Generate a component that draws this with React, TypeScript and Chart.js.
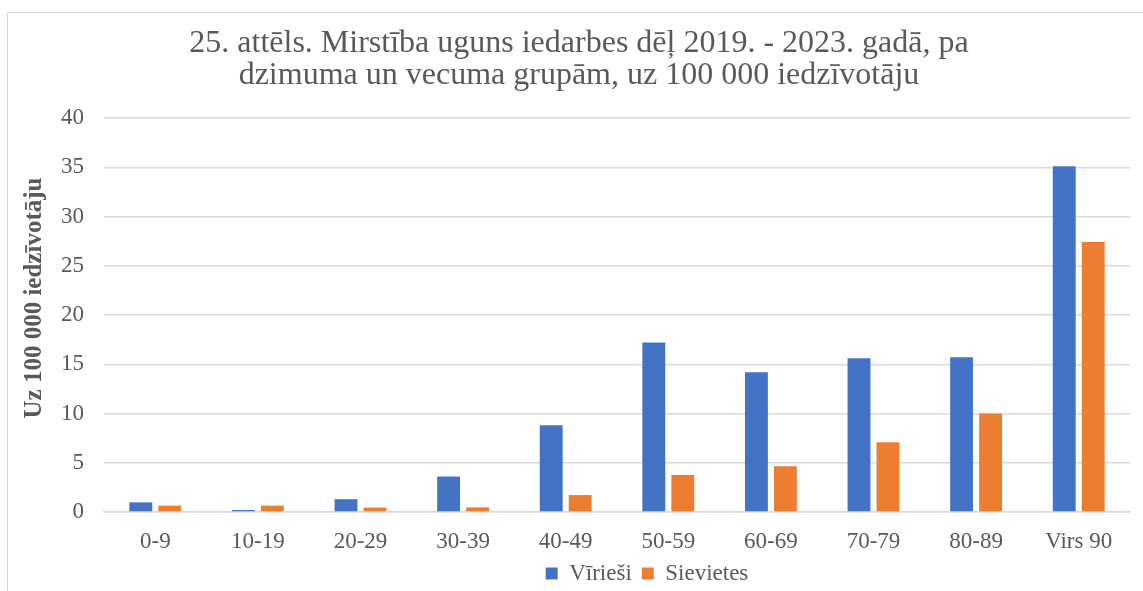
import React, { useEffect, useRef } from "react";
import { Chart, registerables } from "chart.js";

Chart.register(...registerables);

const categories = ["0-9", "10-19", "20-29", "30-39", "40-49", "50-59", "60-69", "70-79", "80-89", "Virs 90"];
const maleValues = [0.98, 0.2, 1.3, 3.6, 8.8, 17.2, 14.2, 15.6, 15.7, 35.1];
const femaleValues = [0.65, 0.65, 0.45, 0.47, 1.72, 3.76, 4.65, 7.07, 10.0, 27.4];
const seriesNames = ["Vīrieši", "Sievietes"];
const titleLines = [
  "25. attēls. Mirstība uguns iedarbes dēļ 2019. - 2023. gadā, pa",
  "dzimuma un vecuma grupām, uz 100 000 iedzīvotāju",
];
const yAxisTitle = "Uz 100 000 iedzīvotāju";

const TEXT = "#595959";
const GRID = "#d9d9d9";
const FONT = "'Liberation Serif', 'Times New Roman', serif";

Chart.defaults.font.family = FONT;
Chart.defaults.color = TEXT;

const yTitlePlugin = {
  id: "yTitlePlugin",
  afterDraw(chart: any) {
    const ctx = chart.ctx;
    ctx.save();
    ctx.translate(35, 298);
    ctx.rotate(-Math.PI / 2);
    ctx.font = `bold 25px ${FONT}`;
    ctx.fillStyle = TEXT;
    ctx.textAlign = "center";
    ctx.textBaseline = "middle";
    ctx.fillText(yAxisTitle, 0, 0);
    ctx.restore();
  },
};

const shiftPlugin = {
  id: "shiftPlugin",
  afterLayout(chart: any) {
    const lg = chart.legend;
    if (lg) {
      lg.left += 82;
      lg.right += 82;
      lg.top += 4;
      lg.bottom += 4;
    }
    const tb = chart.titleBlock;
    if (tb) {
      tb.left += 14;
      tb.right += 14;
    }
  },
};

export default function App() {
  const ref = useRef<HTMLCanvasElement | null>(null);

  useEffect(() => {
    if (!ref.current) return;
    const chart = new Chart(ref.current, {
      type: "bar",
      data: {
        labels: categories,
        datasets: [
          {
            label: seriesNames[0],
            data: maleValues,
            backgroundColor: "#4472C4",
            borderWidth: 0,
            categoryPercentage: 0.565,
            barPercentage: 0.79,
          },
          {
            label: seriesNames[1],
            data: femaleValues,
            backgroundColor: "#ED7D31",
            borderWidth: 0,
            categoryPercentage: 0.565,
            barPercentage: 0.79,
          },
        ],
      },
      options: {
        responsive: false,
        animation: false,
        layout: { padding: { left: 0, right: 13, top: 0, bottom: 0 } },
        plugins: {
          title: {
            display: true,
            text: titleLines,
            color: TEXT,
            font: { family: FONT, size: 32, style: "normal", weight: 400, lineHeight: 1.0 },
            padding: { top: 28, bottom: 26 },
          },
          legend: {
            position: "bottom",
            labels: {
              color: TEXT,
              font: { family: FONT, size: 23, style: "normal", weight: 400 },
              boxWidth: 12,
              boxHeight: 12,
              padding: 10,
            },
          },
          tooltip: { enabled: false },
        },
        scales: {
          x: {
            grid: { display: false, drawTicks: false },
            border: { display: true, color: GRID, width: 1.5 },
            ticks: {
              color: TEXT,
              font: { family: FONT, size: 23 },
              padding: 16,
              maxRotation: 0,
              autoSkip: false,
            },
            afterFit(scale: any) {
              scale.height = 36;
            },
          },
          y: {
            min: 0,
            max: 40,
            grid: { color: GRID, lineWidth: 1.5, drawTicks: false },
            border: { display: false },
            ticks: {
              stepSize: 5,
              color: TEXT,
              font: { family: FONT, size: 23 },
              padding: 20,
            },
            afterFit(scale: any) {
              scale.width = 104;
            },
          },
        },
      },
      plugins: [yTitlePlugin, shiftPlugin],
    } as any);
    return () => chart.destroy();
  }, []);

  return (
    <div style={{ position: "fixed", left: 0, top: 0, width: 1143, height: 591, background: "#fff", overflow: "hidden" }}>
      <div
        style={{
          position: "absolute",
          left: 7,
          top: 12,
          width: 1300,
          height: 700,
          borderTop: `1px solid ${GRID}`,
          borderLeft: `1px solid ${GRID}`,
        }}
      />
      <canvas ref={ref} width={1143} height={591} style={{ position: "absolute", left: 0, top: 0 }} />
    </div>
  );
}
